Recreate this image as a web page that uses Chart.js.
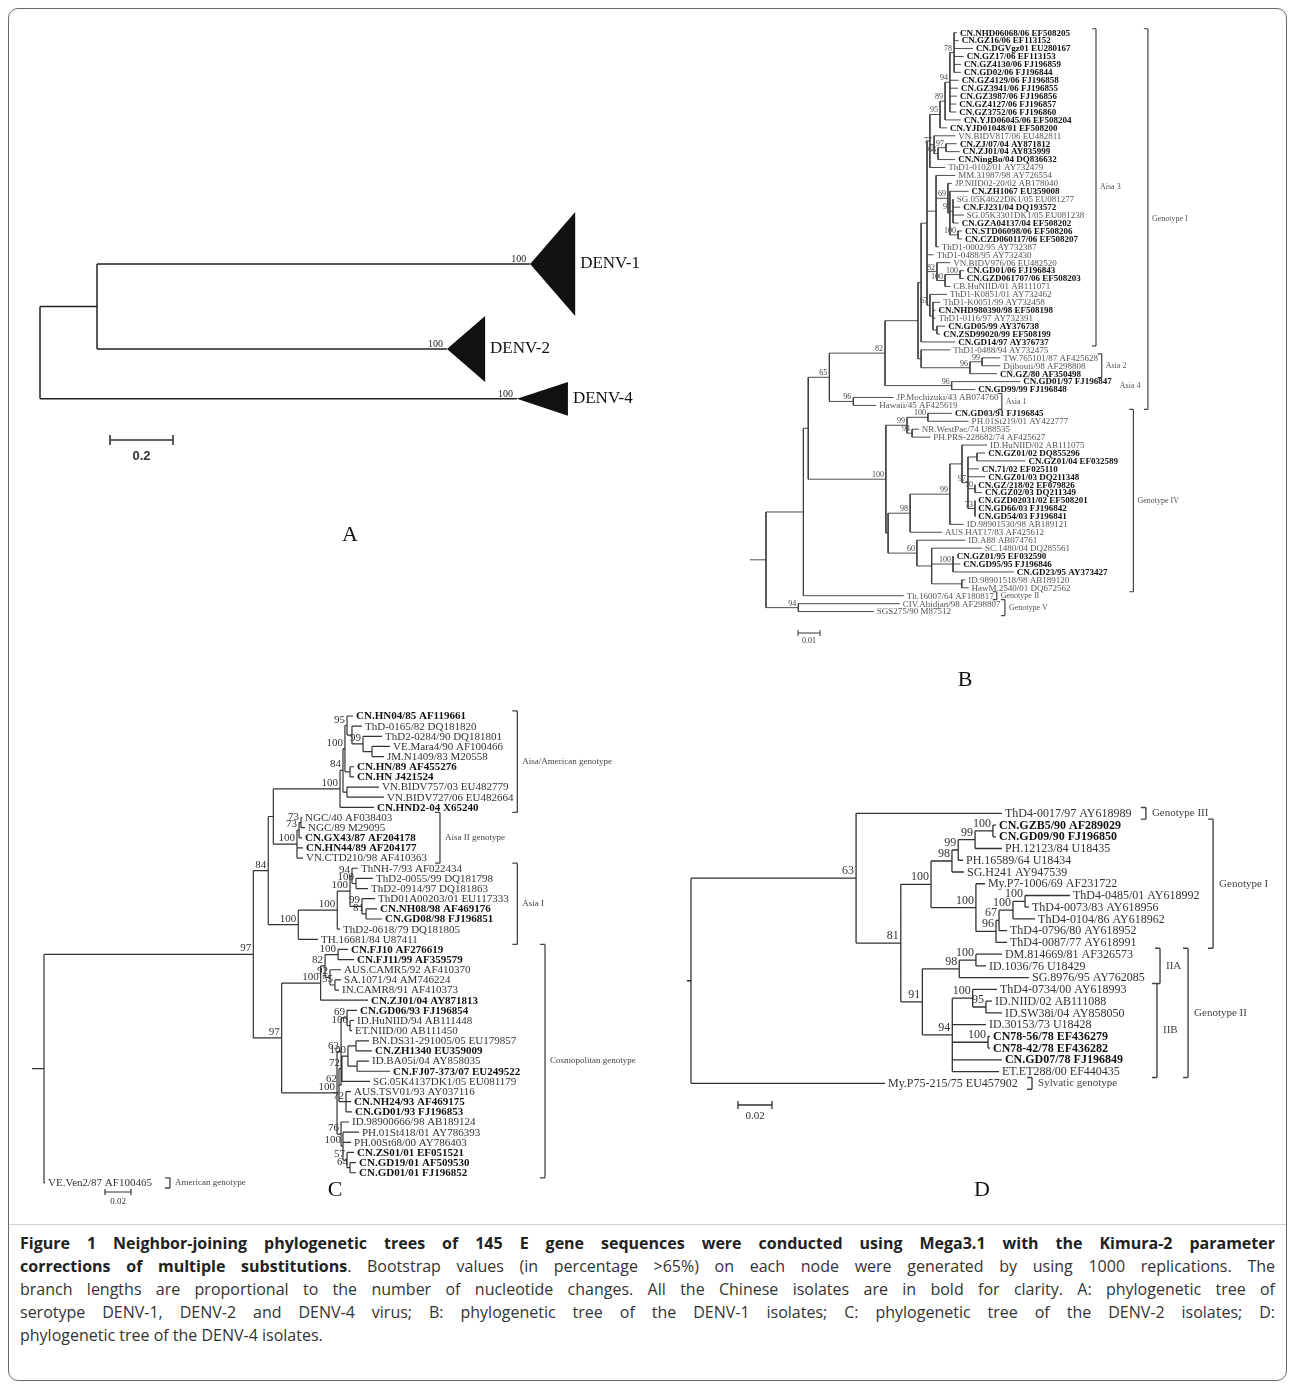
<!DOCTYPE html>
<html><head><meta charset="utf-8">
<script src="https://cdn.jsdelivr.net/npm/chart.js@4.4.0/dist/chart.umd.min.js"></script>
<style>
html,body{margin:0;padding:0;background:#fff;}
#fig{position:relative;width:1295px;height:1387px;overflow:hidden;background:#fff;}
#frame{position:absolute;left:8px;top:8px;width:1277px;height:1371px;border:1.5px solid #6a6a6a;border-radius:10px;}
canvas{position:absolute;}
#rule{position:absolute;left:9px;top:1224px;width:1277px;height:1px;background:#d0d0d0;}
#caption{position:absolute;left:20px;top:1232px;width:1256px;font-family:"Open Sans",sans-serif;font-size:16px;color:#333;line-height:23px;}
.ln{white-space:nowrap;}
.ln b{color:#222;}
</style></head>
<body><div id="fig">
<div id="frame"></div>
<canvas id="cA" width="640" height="420" style="left:20px;top:150px"></canvas>
<canvas id="cB" width="545" height="680" style="left:740px;top:15px"></canvas>
<canvas id="cC" width="620" height="530" style="left:20px;top:690px"></canvas>
<canvas id="cD" width="600" height="440" style="left:680px;top:780px"></canvas>
<div id="rule"></div>
<div id="caption"></div>
</div>
<script>
// ================= DATA =================
// ---- Panel A: serotype tree (collapsed clades) ----
const aClades = ['DENV-1', 'DENV-2', 'DENV-4'];
const aTaxa = [74, 47, 24];
const aApexX = [1.556, 1.292, 1.514];
const aDepth = [0.143, 0.121, 0.162];
const aSupport = [100, 100, 100];
const aTree = [0, null, [0.181, null, 0, 1], 2];
const aScaleLen = 0.2;

// ---- Panel B: DENV-1 ----
const bLeaves = ['CN.NHD06068/06 EF508205','CN.GZ16/06 EF113152','CN.DGVgz01 EU280167','CN.GZ17/06 EF113153','CN.GZ4130/06 FJ196859','CN.GD02/06 FJ196844','CN.GZ4129/06 FJ196858','CN.GZ3941/06 FJ196855','CN.GZ3987/06 FJ196856','CN.GZ4127/06 FJ196857','CN.GZ3752/06 FJ196860','CN.YJD06045/06 EF508204','CN.YJD01048/01 EF508200','VN.BIDV817/06 EU482811','CN.ZJ/07/04 AY871812','CN.ZJ01/04 AY835999','CN.NingBo/04 DQ836632','ThD1-0102/01 AY732479','MM.31987/98 AY726554','JP.NIID02-20/02 AB178040','CN.ZH1067 EU359008','SG.05K4622DK1/05 EU081277','CN.FJ231/04 DQ193572','SG.05K3301DK1/05 EU081238','CN.GZA04137/04 EF508202','CN.STD06098/06 EF508206','CN.CZD060117/06 EF508207','ThD1-0002/95 AY732387','ThD1-0488/95 AY732430','VN.BIDV976/06 EU482520','CN.GD01/06 FJ196843','CN.GZD061707/06 EF508203','CB.HuNIID/01 AB111071','ThD1-K0851/01 AY732462','ThD1-K0051/99 AY732458','CN.NHD980390/98 EF508198','ThD1-0116/97 AY732391','CN.GD05/99 AY376738','CN.ZSD99020/99 EF508199','CN.GD14/97 AY376737','ThD1-0488/94 AY732475','TW.765101/87 AF425628','Djibouti/98 AF298808','CN.GZ/80 AF350498','CN.GD01/97 FJ196847','CN.GD99/99 FJ196848','JP.Mochizuki/43 AB074760','Hawaii/45 AF425619','CN.GD03/91 FJ196845','PH.01St219/01 AY422777','NR.WestPac/74 U88535','PH.PRS-228682/74 AF425627','ID.HuNIID/02 AB111075','CN.GZ01/02 DQ855296','CN.GZ01/04 EF032589','CN.71/02 EF025110','CN.GZ01/03 DQ211348','CN.GZ/218/02 EF079826','CN.GZ02/03 DQ211349','CN.GZD02031/02 EF508201','CN.GD66/03 FJ196842','CN.GD54/03 FJ196841','ID.98901530/98 AB189121','AUS.HAT17/83 AF425612','ID.A88 AB074761','SC.1480/04 DQ285561','CN.GZ01/95 EF032590','CN.GD95/95 FJ196846','CN.GD23/95 AY373427','ID.98901518/98 AB189120','HawM.2540/01 DQ672562','Th.16007/64 AF180817','CIV.Abidjan/98 AF298807','SGS275/90 M87512'];
const bTipX = [0.0868,0.0876,0.0941,0.0899,0.0886,0.0886,0.0876,0.0873,0.0868,0.0865,0.0865,0.0886,0.0823,0.086,0.0868,0.088,0.086,0.0815,0.086,0.0845,0.0921,0.0853,0.0883,0.0899,0.0876,0.0891,0.0891,0.0785,0.0762,0.0838,0.0899,0.0899,0.0838,0.0823,0.0792,0.077,0.077,0.0815,0.0792,0.086,0.0838,0.1065,0.1065,0.105,0.1156,0.0951,0.058,0.0501,0.0845,0.0921,0.0694,0.0747,0.1005,0.0997,0.1179,0.0967,0.0997,0.0951,0.0982,0.0951,0.0951,0.0951,0.0899,0.08,0.0906,0.0982,0.0853,0.0883,0.1126,0.0906,0.0921,0.0626,0.0608,0.049];
// node = [x, bootstrap, ...children]; numbers are leaf indices
const bTree = [0, null,
  [0.017, null,
    [0.0192, null,
      [0.0288, 65,
        [0.0541, 82,
          [0.0691, null,
            [0.0705, null,
              [0.0732, null,
                [0.0745, null,
                  [0.0791, 95, [0.0814, 89, [0.0836, 94, [0.0855, 78, 0,1,2,3,4,5], 6,7,8,9,10], 11], 12],
                  [0.0764, 77, 13, [0.0782, 68, [0.0818, 97, 14, 15], 16]],
                  17],
                [0.0773, null, 18, [0.0827, 69, 19, [0.0836, null, 20, [0.085, 97, 21,22,23,24], [0.0873, 100, 25, 26]]], 27],
                28,
                [0.0777, 82, 29, [0.0814, 100, [0.0882, 100, 30, 31], 32]],
                [0.0745, 67, 33, [0.0759, null, 34, 35, 36, [0.0777, null, 37, 38]]]
              ],
              39],
            [0.0705, null, 40, [0.0927, 96, [0.0982, 99, 41, 42], 43]]
          ],
          [0.0844, 96, 44, 45]
        ],
        [0.0397, 96, 46, 47]
      ],
      [0.0545, 100,
        [0.0641, 99, [0.0736, 100, 48, 49], [0.0664, 94, 50, 51]],
        [0.0555, null,
          [0.0655, 98, [0.0836, 99, [0.0891, null, 52, [0.0918, 97, [0.0959, null, 53, 54], 55, 56, [0.095, 70, 57, 58], [0.095, 73, 59, 60, 61]]], 62], 63],
          [0.0686, 60, 64, [0.0753, null, 65, [0.085, 100, 66, 67, 68], [0.089, null, 69, 70]]]
        ]
      ]
    ],
    71],
  [0.0147, 94, 72, 73]
];
const bBrLabels = ['Aisa 3','Genotype I','Asia 2','Asia 4','Asia 1','Genotype IV','Genotype II','Genotype V'];
const bBrFrom = [0, 0, 41, 44, 46, 48, 71, 72];
const bBrTo = [39, 47, 43, 45, 47, 70, 71, 73];
const bBrX = [0.15, 0.1736, 0.1526, 0.159, 0.1072, 0.167, 0.1049, 0.1086];
const bScaleLen = 0.01;

// ---- Panel C: DENV-2 ----
const cLeaves = ['CN.HN04/85 AF119661','ThD-0165/82 DQ181820','ThD2-0284/90 DQ181801','VE.Mara4/90 AF100466','JM.N1409/83 M20558','CN.HN/89 AF455276','CN.HN J421524','VN.BIDV757/03 EU482779','VN.BIDV727/06 EU482664','CN.HND2-04 X65240','NGC/40 AF038403','NGC/89 M29095','CN.GX43/87 AF204178','CN.HN44/89 AF204177','VN.CTD210/98 AF410363','ThNH-7/93 AF022434','ThD2-0055/99 DQ181798','ThD2-0914/97 DQ181863','ThD01A00203/01 EU117333','CN.NH08/98 AF469176','CN.GD08/98 FJ196851','ThD2-0618/79 DQ181805','TH.16681/84 U87411','CN.FJ10 AF276619','CN.FJ11/99 AF359579','AUS.CAMR5/92 AF410370','SA.1071/94 AM746224','IN.CAMR8/91 AF410373','CN.ZJ01/04 AY871813','CN.GD06/93 FJ196854','ID.HuNIID/94 AB111448','ET.NIID/00 AB111450','BN.DS31-291005/05 EU179857','CN.ZH1340 EU359009','ID.BA05i/04 AY858035','CN.FJ07-373/07 EU249522','SG.05K4137DK1/05 EU081179','AUS.TSV01/93 AY037116','CN.NH24/93 AF469175','CN.GD01/93 FJ196853','ID.98900666/98 AB189124','PH.01St418/01 AY786393','PH.00St68/00 AY786403','CN.ZS01/01 EF051521','CN.GD19/01 AF509530','CN.GD01/01 FJ196852','VE.Ven2/87 AF100465'];
const cTipX = [0.2377,0.2446,0.26,0.2662,0.2615,0.2385,0.2385,0.2577,0.2615,0.2538,0.1985,0.2008,0.1985,0.1992,0.1992,0.2415,0.2531,0.2492,0.2546,0.2562,0.26,0.2277,0.2108,0.2338,0.2385,0.2285,0.2285,0.2269,0.2492,0.2408,0.2385,0.2369,0.25,0.2523,0.25,0.2662,0.2508,0.2362,0.2362,0.2369,0.2346,0.2423,0.2362,0.2385,0.24,0.24,0.0008];
const cTree = [0, null,
  [0.161, 97,
    [0.1725, 84,
      [0.1764, null,
        [0.2277, 100, [0.23, 84, [0.2315, 100, [0.2331, 95, 0, [0.2369, null, 1, [0.2454, 99, 2, [0.2523, null, 3, 4]]]], [0.2354, null, 5, 6]], [0.2331, null, 7, 8]], 9],
        [0.1946, 100, [0.1962, 73, [0.1977, 73, 10, 11], 12], 13, 14]
      ],
      [0.1956, 100, [0.2256, 100, [0.2354, 100, [0.2369, 94, 15, [0.24, 100, 16, 17]], [0.2446, 99, 18, [0.2477, 81, 19, 20]]], 21], 22]
    ],
    [0.1828, 97,
      [0.2128, 100, [0.2162, 82, [0.2262, 100, 23, 24], [0.22, 92, 25, [0.2238, 55, 26, 27]]], 28],
      [0.2254, 100,
        [0.2285, 63, [0.2331, 69, 29, [0.2354, 100, 30, 31]], [0.2269, 62, [0.2292, 72, [0.2338, 100, [0.24, null, 32, 33], [0.2408, null, 34, 35]], 36], [0.2323, 72, 37, 38, 39]]],
        [0.2285, 76, 40, [0.23, 100, 41, 42, [0.2331, 57, 43, [0.2354, 64, 44, 45]]]]
      ]
    ]
  ],
  46];
const cBrLabels = ['Aisa/American genotype','Aisa II genotype','Asia I','Cosmopolitan genotype','American genotype'];
const cBrFrom = [0, 10, 15, 23, 46];
const cBrTo = [9, 14, 22, 45, 46];
const cBrX = [0.3641, 0.3046, 0.3641, 0.3854, 0.0969];
const cScaleLen = 0.02;

// ---- Panel D: DENV-4 ----
const dLeaves = ['ThD4-0017/97 AY618989','CN.GZB5/90 AF289029','CN.GD09/90 FJ196850','PH.12123/84 U18435','PH.16589/64 U18434','SG.H241 AY947539','My.P7-1006/69 AF231722','ThD4-0485/01 AY618992','ThD4-0073/83 AY618956','ThD4-0104/86 AY618962','ThD4-0796/80 AY618952','ThD4-0087/77 AY618991','DM.814669/81 AF326573','ID.1036/76 U18429','SG.8976/95 AY762085','ThD4-0734/00 AY618993','ID.NIID/02 AB111088','ID.SW38i/04 AY858050','ID.30153/73 U18428','CN78-56/78 EF436279','CN78-42/78 EF436282','CN.GD07/78 FJ196849','ET.ET288/00 EF440435','My.P75-215/75 EU457902'];
const dTipX = [0.1829,0.1794,0.1794,0.1829,0.16,0.1606,0.1729,0.2229,0.1988,0.2024,0.1859,0.1859,0.1829,0.1735,0.1988,0.18,0.1771,0.1829,0.1735,0.1759,0.1759,0.1829,0.1812,0.1141];
const dTree = [0, null,
  [0.0971, 63, 0,
    [0.1234, 81,
      [0.1412, 100,
        [0.1535, 98, [0.1572, 99, [0.1671, 99, [0.1776, 100, 1, 2], 3], 4], 5],
        [0.1676, 100, 6, [0.1794, 96, [0.1812, 67, [0.1894, 100, [0.1965, 100, 7, 8], 9], 10], 11]]],
      [0.1361, 91,
        [0.1578, 98, [0.1676, 100, 12, 13], 14],
        [0.1537, 94, [0.1657, 100, 15, [0.1735, 95, 16, 17]], 18, [0.1747, 100, 19, 20], 21, 22]]]],
  23];
const dBrLabels = ['Genotype III','Genotype I','IIA','IIB','Genotype II','Sylvatic genotype'];
const dBrFrom = [0, 1, 12, 15, 12, 23];
const dBrTo = [0, 11, 14, 22, 22, 23];
const dBrX = [0.2676, 0.3071, 0.2759, 0.2741, 0.2924, 0.2006];
const dScaleLen = 0.02;

// ================= RENDERING =================
const SERIF = '"Liberation Serif","Times New Roman",serif';

function layoutTree(tree, tipX, leafY, stemX) {
  const segs = [], sups = [];
  function walk(n, px) {
    if (typeof n === 'number') { segs.push([px, leafY[n], tipX[n], leafY[n]]); return leafY[n]; }
    const x = n[0], s = n[1], kids = n.slice(2);
    const ys = kids.map(k => walk(k, x));
    const y = (ys[0] + ys[ys.length - 1]) / 2;
    segs.push([x, ys[0], x, ys[ys.length - 1]]);
    segs.push([px, y, x, y]);
    if (s != null) sups.push({x: x, y: y, s: s});
    return y;
  }
  walk(tree, stemX);
  return {segs, sups};
}
function toData(segs) {
  const d = [];
  segs.forEach(s => { d.push({x: s[0], y: s[1]}, {x: s[2], y: s[3]}, {x: NaN, y: NaN}); });
  return d;
}

function makePanel(cfg) {
  const t = layoutTree(cfg.tree, cfg.tipX, cfg.leafY, cfg.stemX);
  const brSegs = [];
  const tick = cfg.brTick / cfg.ppu;
  (cfg.brLabels || []).forEach((lab, i) => {
    if (cfg.labelOnly && cfg.labelOnly.includes(lab)) return;
    const y1 = cfg.brFrom[i] - 0.5, y2 = cfg.brTo[i] + 0.5, x = cfg.brX[i];
    brSegs.push([x - tick, y1, x, y1], [x, y1, x, y2], [x, y2, x - tick, y2]);
  });
  const xMin = (cfg.left - cfg.rootPx) / cfg.ppu, xMax = (cfg.left + cfg.w - cfg.rootPx) / cfg.ppu;
  const yMin = (cfg.top - cfg.y0) / cfg.step, yMax = (cfg.top + cfg.h - cfg.y0) / cfg.step;

  const labelPlugin = {
    id: 'treeLabels',
    afterDatasetsDraw(chart) {
      const ctx = chart.ctx;
      const sx = v => chart.scales.x.getPixelForValue(v);
      const sy = v => chart.scales.y.getPixelForValue(v);
      ctx.save();
      if (cfg.depth) {
        ctx.fillStyle = '#111';
        cfg.leaves.forEach((name, i) => {
          const ax = sx(cfg.tipX[i]), ay = sy(cfg.leafY[i]);
          const bx = sx(cfg.tipX[i] + cfg.depth[i]);
          const yt = sy(cfg.leafY[i] - cfg.sizes[i] / 2), yb = sy(cfg.leafY[i] + cfg.sizes[i] / 2);
          ctx.beginPath(); ctx.moveTo(ax, ay); ctx.lineTo(bx, yt); ctx.lineTo(bx, yb); ctx.closePath(); ctx.fill();
        });
      }
      ctx.textAlign = 'left'; ctx.textBaseline = 'middle';
      cfg.leaves.forEach((name, i) => {
        const bold = name.startsWith('CN');
        ctx.font = (bold ? 'bold ' : '') + cfg.leafFont + 'px ' + SERIF;
        ctx.fillStyle = bold ? cfg.boldColor : cfg.textColor;
        const x = cfg.depth ? sx(cfg.tipX[i] + cfg.depth[i]) : sx(cfg.tipX[i]);
        ctx.fillText(name, x + cfg.leafGap, sy(cfg.leafY[i]) + cfg.leafDy);
      });
      ctx.font = cfg.supFont + 'px ' + SERIF; ctx.fillStyle = cfg.supColor;
      ctx.textAlign = 'right'; ctx.textBaseline = 'alphabetic';
      t.sups.forEach(p => ctx.fillText(String(p.s), sx(p.x) - cfg.supDx, sy(p.y) - cfg.supDy));
      if (cfg.leafSupport) {
        cfg.leafSupport.forEach((s, i) => ctx.fillText(String(s), sx(cfg.tipX[i]) - cfg.supDx, sy(cfg.leafY[i]) - cfg.supDy));
      }
      if (cfg.brLabels) {
        ctx.font = cfg.brFont + 'px ' + SERIF; ctx.fillStyle = cfg.brTextColor;
        ctx.textAlign = 'left'; ctx.textBaseline = 'middle';
        cfg.brLabels.forEach((lab, i) => {
          const ym = (sy(cfg.brFrom[i] - 0.5) + sy(cfg.brTo[i] + 0.5)) / 2;
          ctx.fillText(lab, sx(cfg.brX[i]) + cfg.brGap, ym);
        });
      }
      const sb = cfg.scaleBar;
      const x1 = sb.px - cfg.left, yb = sb.py - cfg.top;
      const x2 = x1 + (sx(sb.len) - sx(0));
      ctx.strokeStyle = '#333'; ctx.lineWidth = sb.lw;
      ctx.beginPath();
      ctx.moveTo(x1, yb); ctx.lineTo(x2, yb);
      ctx.moveTo(x1, yb - sb.tick); ctx.lineTo(x1, yb + sb.tick);
      ctx.moveTo(x2, yb - sb.tick); ctx.lineTo(x2, yb + sb.tick);
      ctx.stroke();
      ctx.font = sb.font; ctx.fillStyle = '#333'; ctx.textAlign = 'center'; ctx.textBaseline = 'top';
      ctx.fillText(String(sb.len), (x1 + x2) / 2, yb + sb.labelDy);
      ctx.font = cfg.letter.font; ctx.fillStyle = '#111'; ctx.textAlign = 'center'; ctx.textBaseline = 'middle';
      ctx.fillText(cfg.letter.text, cfg.letter.px - cfg.left, cfg.letter.py - cfg.top);
      ctx.restore();
    }
  };

  return new Chart(document.getElementById(cfg.id), {
    type: 'scatter',
    data: {datasets: [
      {data: toData(t.segs), showLine: true, spanGaps: false, borderColor: cfg.lineColor, borderWidth: cfg.lineWidth, pointRadius: 0, pointHoverRadius: 0},
      {data: toData(brSegs), showLine: true, spanGaps: false, borderColor: cfg.brColor, borderWidth: cfg.brWidth, pointRadius: 0, pointHoverRadius: 0}
    ]},
    options: {
      responsive: false, animation: false, events: [],
      layout: {padding: 0},
      plugins: {legend: {display: false}, tooltip: {enabled: false}, title: {display: false}},
      scales: {
        x: {type: 'linear', min: xMin, max: xMax, display: false},
        y: {type: 'linear', min: yMin, max: yMax, reverse: true, display: false}
      }
    },
    plugins: [labelPlugin]
  });
}

const idx = arr => arr.map((_, i) => i);
const aCentres = aTaxa.map((n, i) => aTaxa.slice(0, i).reduce((s, v) => s + v, 0) + n / 2);

makePanel({id: 'cA', left: 20, top: 150, w: 640, h: 420, rootPx: 40, ppu: 315, y0: 212, step: 1.405,
  tree: aTree, tipX: aApexX, leafY: aCentres, stemX: 0, leaves: aClades, depth: aDepth, sizes: aTaxa,
  leafSupport: aSupport,
  lineColor: '#222', lineWidth: 1.5, leafFont: 17, leafGap: 5, leafDy: 0, textColor: '#111', boldColor: '#111',
  supFont: 10, supColor: '#222', supDx: 4, supDy: 2,
  brTick: 0, brColor: '#555', brWidth: 1,
  scaleBar: {len: aScaleLen, px: 110, py: 440, tick: 5, lw: 1.6, font: 'bold 13px "Liberation Sans",Arial,sans-serif', labelDy: 10},
  letter: {text: 'A', px: 350, py: 535, font: '22px ' + SERIF}
});

makePanel({id: 'cB', left: 740, top: 15, w: 545, h: 680, rootPx: 766, ppu: 2200, y0: 32.7, step: 7.93,
  tree: bTree, tipX: bTipX, leafY: idx(bLeaves), stemX: -0.0073, leaves: bLeaves,
  lineColor: '#3a3a3a', lineWidth: 0.9, leafFont: 9, leafGap: 3, leafDy: 0.5, textColor: '#555', boldColor: '#111',
  supFont: 8, supColor: '#444', supDx: 2, supDy: 2,
  brLabels: bBrLabels, brFrom: bBrFrom, brTo: bBrTo, brX: bBrX, labelOnly: ['Asia 4'],
  brTick: 4, brColor: '#444', brWidth: 1.2, brFont: 8, brTextColor: '#555', brGap: 4,
  scaleBar: {len: bScaleLen, px: 798, py: 633, tick: 3, lw: 1, font: '8px ' + SERIF, labelDy: 4},
  letter: {text: 'B', px: 965, py: 680, font: '22px ' + SERIF}
});

makePanel({id: 'cC', left: 20, top: 690, w: 620, h: 530, rootPx: 44, ppu: 1300, y0: 716, step: 10.15,
  tree: cTree, tipX: cTipX, leafY: idx(cLeaves), stemX: -0.0092, leaves: cLeaves,
  lineColor: '#333', lineWidth: 1.2, leafFont: 11, leafGap: 3, leafDy: 0.5, textColor: '#333', boldColor: '#111',
  supFont: 11, supColor: '#333', supDx: 2, supDy: 3,
  brLabels: cBrLabels, brFrom: cBrFrom, brTo: cBrTo, brX: cBrX,
  brTick: 5, brColor: '#444', brWidth: 1.3, brFont: 9, brTextColor: '#444', brGap: 5,
  scaleBar: {len: cScaleLen, px: 105, py: 1192, tick: 3, lw: 1.2, font: '9px ' + SERIF, labelDy: 5},
  letter: {text: 'C', px: 335, py: 1190, font: '22px ' + SERIF}
});

makePanel({id: 'cD', left: 680, top: 780, w: 600, h: 440, rootPx: 691, ppu: 1700, y0: 813.3, step: 11.74,
  tree: dTree, tipX: dTipX, leafY: idx(dLeaves), stemX: -0.0024, leaves: dLeaves,
  lineColor: '#333', lineWidth: 1.3, leafFont: 12, leafGap: 3, leafDy: 0.5, textColor: '#333', boldColor: '#111',
  supFont: 12, supColor: '#333', supDx: 2, supDy: 4,
  brLabels: dBrLabels, brFrom: dBrFrom, brTo: dBrTo, brX: dBrX,
  brTick: 5, brColor: '#444', brWidth: 1.4, brFont: 11, brTextColor: '#444', brGap: 6,
  scaleBar: {len: dScaleLen, px: 738, py: 1105, tick: 4, lw: 1.3, font: '11px ' + SERIF, labelDy: 6},
  letter: {text: 'D', px: 982, py: 1190, font: '22px ' + SERIF}
});

// ================= CAPTION =================
const capLines = [
  '<b>Figure 1 Neighbor-joining phylogenetic trees of 145 E gene sequences were conducted using Mega3.1 with the Kimura-2 parameter</b>',
  '<b>corrections of multiple substitutions</b>. Bootstrap values (in percentage &gt;65%) on each node were generated by using 1000 replications. The',
  'branch lengths are proportional to the number of nucleotide changes. All the Chinese isolates are in bold for clarity. A: phylogenetic tree of',
  'serotype DENV-1, DENV-2 and DENV-4 virus; B: phylogenetic tree of the DENV-1 isolates; C: phylogenetic tree of the DENV-2 isolates; D:',
  'phylogenetic tree of the DENV-4 isolates.'
];
const cap = document.getElementById('caption');
capLines.forEach((h, i) => {
  const d = document.createElement('div'); d.className = 'ln';
  const s = document.createElement('span'); s.innerHTML = h; d.appendChild(s); cap.appendChild(d);
  if (i < capLines.length - 1) {
    const w = s.getBoundingClientRect().width;
    const n = (s.textContent.match(/ /g) || []).length;
    s.style.wordSpacing = ((1255 - w) / n) + 'px';
  }
});
</script>
</body></html>
